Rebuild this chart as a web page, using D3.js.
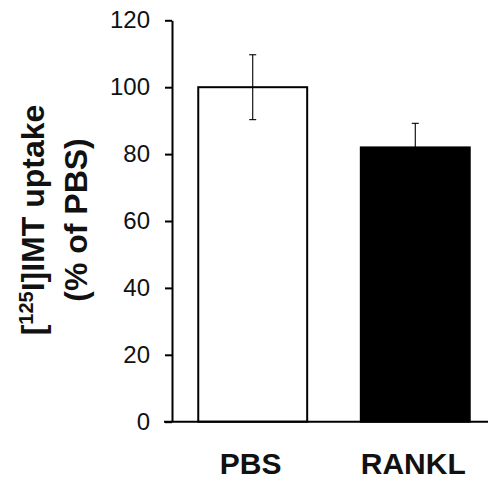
<!DOCTYPE html>
<html>
<head>
<meta charset="utf-8">
<script src="https://cdn.jsdelivr.net/npm/d3@7"></script>
<style>
  body { margin: 0; background: #fff; }
  svg { display: block; font-family: "Liberation Sans", Arial, sans-serif; }
</style>
</head>
<body>
<div id="chart"></div>
<script>
// chart data
var groups = ["PBS", "RANKL"];
var means = [100, 82];
var errors = [9.7, 7.2];
var fills = ["#ffffff", "#000000"];
var yTicks = [0, 20, 40, 60, 80, 100, 120];

var width = 488, height = 481;

var svg = d3.select("#chart")
	.append("svg")
	.attr("width", width)
	.attr("height", height);

var y = d3.scaleLinear()
	.domain([0, 120])
	.range([421.7, 20.3]);

var x = d3.scaleBand()
	.domain(groups)
	.range([182, 486])
	.paddingInner(0.33)
	.paddingOuter(0.1);

// bars
svg.selectAll(".bar")
	.data(groups)
	.enter().append("rect")
	.attr("class", "bar")
	.attr("x", function(d) { return x(d); })
	.attr("y", function(d, i) { return y(means[i]); })
	.attr("width", x.bandwidth())
	.attr("height", function(d, i) { return y(0) - y(means[i]); })
	.style("fill", function(d, i) { return fills[i]; })
	.style("stroke", "#000")
	.style("stroke-width", 2);

// error bars
var err = svg.selectAll(".err")
	.data(groups)
	.enter().append("g")
	.attr("class", "err")
	.style("stroke", "#000")
	.style("stroke-width", 1.1);

err.append("line")
	.attr("x1", function(d) { return x(d) + x.bandwidth() / 2; })
	.attr("x2", function(d) { return x(d) + x.bandwidth() / 2; })
	.attr("y1", function(d, i) { return y(means[i] + errors[i]); })
	.attr("y2", function(d, i) { return y(means[i] - errors[i]); });

[1, -1].forEach(function(s) {
	err.append("line")
		.attr("x1", function(d) { return x(d) + x.bandwidth() / 2 - 3.5; })
		.attr("x2", function(d) { return x(d) + x.bandwidth() / 2 + 3.5; })
		.attr("y1", function(d, i) { return y(means[i] + s * errors[i]); })
		.attr("y2", function(d, i) { return y(means[i] + s * errors[i]); });
});

// y axis
var yAxis = d3.axisLeft(y)
	.tickValues(yTicks)
	.tickSize(7)
	.tickSizeOuter(0)
	.tickPadding(15);

var gy = svg.append("g")
	.attr("transform", "translate(172,0)")
	.call(yAxis);

gy.select(".domain").style("stroke", "#000").style("stroke-width", 2);
gy.selectAll(".tick line").style("stroke", "#000").style("stroke-width", 2);
gy.selectAll(".tick text")
	.style("font-size", "24px")
	.style("fill", "#111")
	.style("font-family", "'Liberation Sans', Arial, sans-serif");

// x axis baseline
svg.append("line")
	.attr("x1", 164)
	.attr("x2", width)
	.attr("y1", y(0))
	.attr("y2", y(0))
	.style("stroke", "#000")
	.style("stroke-width", 2);

// category labels
svg.selectAll(".cat")
	.data(groups)
	.enter().append("text")
	.attr("class", "cat")
	.attr("x", function(d) { return x(d) + x.bandwidth() / 2 - 2; })
	.attr("y", 474)
	.attr("text-anchor", "middle")
	.style("font-size", "30px")
	.style("font-weight", "bold")
	.style("fill", "#111")
	.text(function(d) { return d; });

// y label, two lines
var lab1 = svg.append("text")
	.attr("transform", "translate(44,220) rotate(-90)")
	.attr("text-anchor", "middle")
	.style("font-size", "32px")
	.style("font-weight", "bold")
	.style("fill", "#111");
lab1.append("tspan").text("[");
lab1.append("tspan").attr("dy", -11).style("font-size", "20px").text("125");
lab1.append("tspan").attr("dy", 11).text("I]IMT uptake");

svg.append("text")
	.attr("transform", "translate(87,220) rotate(-90)")
	.attr("text-anchor", "middle")
	.style("font-size", "32px")
	.style("font-weight", "bold")
	.style("fill", "#111")
	.text("(% of PBS)");
</script>
</body>
</html>
